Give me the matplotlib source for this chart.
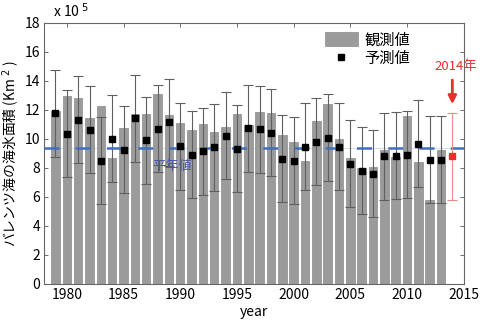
import numpy as np
import matplotlib
matplotlib.use("Agg")
import matplotlib.pyplot as plt

plt.rcParams['font.family'] = ['Noto Sans CJK JP', 'DejaVu Sans']

# values in units of 10^5 km^2
years = list(range(1979, 2014))
observed = [11.9, 12.97, 12.85, 11.43, 12.3, 8.67, 10.78, 11.72, 11.72, 13.13,
            11.68, 11.08, 10.6, 11.03, 10.51, 10.8, 11.7, 10.97, 11.89, 11.77,
            10.28, 9.82, 8.51, 11.22, 12.39, 10.0, 8.67, 8.02, 8.05, 9.24,
            8.78, 11.59, 8.44, 5.79, 9.24]
predicted = [11.77, 10.34, 11.31, 10.64, 8.48, 10.0, 9.24, 11.43, 9.91, 10.69,
             11.15, 9.49, 8.92, 9.15, 9.43, 10.21, 9.31, 10.74, 10.67, 10.44,
             8.64, 8.48, 9.47, 9.82, 10.07, 9.45, 8.28, 7.79, 7.61, 8.8,
             8.85, 8.9, 9.68, 8.55, 8.55]
err = 3.0
forecast_year = 2014
forecast = 8.8
normal = 9.36

fig = plt.figure(figsize=(4.8, 3.23), dpi=100)
ax = fig.add_axes([0.092, 0.121, 0.874, 0.808])

bars = ax.bar(years, observed, width=0.75, color='#9b9b9b', edgecolor='#8a8a8a',
              linewidth=0.5, zorder=2)
ax.errorbar(years, predicted, yerr=err, fmt='none', ecolor='#5f5f5f',
            elinewidth=0.8, capsize=3.5, capthick=0.8, zorder=3)
pts, = ax.plot(years, predicted, 's', color='black', markersize=5, zorder=4)

ax.axhline(normal, color='#c9d6ee', lw=0.6, zorder=1)
ax.axhline(normal, color='#3f6fc0', lw=1.8, dashes=(6, 6.5), zorder=3)
ax.text(1989.3, 8.1, '平年値', color='#4c58a6', fontsize=9.5, ha='center', va='center')

# 2014 forecast
ax.errorbar([forecast_year], [forecast], yerr=err, fmt='none', ecolor='#f08a84',
            elinewidth=0.8, capsize=3.5, capthick=0.8, zorder=3)
ax.plot([forecast_year], [forecast], 's', color='#e8302a', markersize=5, zorder=4)
ax.annotate('', xy=(2014, 12.2), xytext=(2014, 14.25),
            arrowprops=dict(arrowstyle='-|>', color='#e8302a', lw=2.0,
                            mutation_scale=12))
ax.text(2014.3, 15.0, '2014年', color='#e8302a', fontsize=9.5, ha='center',
        va='center', clip_on=False)

ax.set_xlim(1978, 2015)
ax.set_ylim(0, 18)
ax.set_xticks(range(1980, 2016, 5))
ax.set_yticks(range(0, 19, 2))
ax.tick_params(direction='in', top=True, right=True, labelsize=10,
               length=3, width=0.6, color='#555555', pad=3)
for s in ax.spines.values():
    s.set_color('#666666')
    s.set_linewidth(0.8)

ax.set_xlabel('year', fontsize=10, labelpad=2)
ax.set_ylabel('バレンツ海の海氷面積 (Km$^{\\ 2}$ )', fontsize=10, labelpad=2)
ax.text(0.02, 1.01, 'x 10$^{\\ 5}$', transform=ax.transAxes, fontsize=10,
        ha='left', va='bottom')

ax.legend([bars, pts], ['観測値', '予測値'], loc='upper right',
          bbox_to_anchor=(0.905, 1.02), frameon=False,
          fontsize=11, handlelength=2.2, handleheight=1.0, labelspacing=0.1,
          handletextpad=0.4, markerscale=0.8)

fig.savefig('out.png', dpi=100)
